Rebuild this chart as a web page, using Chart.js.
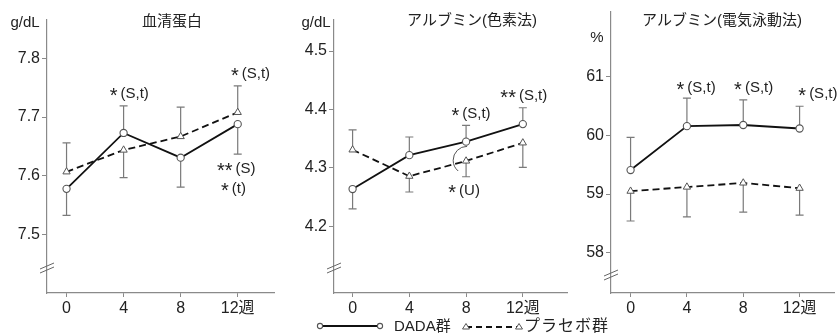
<!DOCTYPE html>
<html>
<head>
<meta charset="utf-8">
<script src="https://cdn.jsdelivr.net/npm/chart.js@4.4.1/dist/chart.umd.min.js"></script>
<style>
  html, body { margin: 0; padding: 0; background: #fff; }
  #wrap { position: relative; width: 840px; height: 333px; overflow: hidden; }
  #wrap canvas { position: absolute; top: 0; }
  .lg { position: absolute; font: 14px 'Liberation Sans', 'Noto Sans CJK JP', sans-serif; color: #222; white-space: nowrap; line-height: 16px; }
</style>
</head>
<body>
<div id="wrap">
  <canvas id="c1" width="280" height="333" style="left:0px"></canvas>
  <canvas id="c2" width="293" height="333" style="left:280px"></canvas>
  <canvas id="c3" width="280" height="333" style="left:560px"></canvas>

  <svg class="lg" style="left:314px;top:319px" width="72" height="14">
    <line x1="6" y1="7" x2="66" y2="7" stroke="#111" stroke-width="1.8"/>
    <circle cx="6" cy="7" r="2.6" fill="#fff" stroke="#555" stroke-width="1.1"/>
    <circle cx="66" cy="7" r="2.6" fill="#fff" stroke="#555" stroke-width="1.1"/>
  </svg>
  <span class="lg" id="lg1" style="left:394px;top:318px;font-size:15px"></span>
  <svg class="lg" style="left:460px;top:319px" width="66" height="14">
    <line x1="6" y1="8" x2="59" y2="8" stroke="#111" stroke-width="1.8" stroke-dasharray="6,4"/>
    <polygon points="6,4.5 9.5,10 2.5,10" fill="#fff" stroke="#555" stroke-width="1"/>
    <polygon points="59,4.5 62.5,10 55.5,10" fill="#fff" stroke="#555" stroke-width="1"/>
  </svg>
  <span class="lg" id="lg2" style="left:524px;top:318px;letter-spacing:1px;font-size:16px"></span>
</div>
<script>
// weeks and labels
const weeks = [0, 4, 8, 12];
const xTickLabels = ['0', '4', '8', '12週'];
const seriesNames = ['DADA群', 'プラセボ群'];

// 血清蛋白 (g/dL)
const proteinDada = [7.578, 7.673, 7.631, 7.688];
const proteinDadaErr = [-0.045, 0.046, -0.050, -0.051];
const proteinPlacebo = [7.607, 7.644, 7.667, 7.708];
const proteinPlaceboErr = [0.049, -0.047, 0.050, 0.045];
const proteinTicks = [7.5, 7.6, 7.7, 7.8];

// アルブミン(色素法) (g/dL)
const dyeDada = [4.264, 4.322, 4.345, 4.375];
const dyeDadaErr = [-0.034, 0.031, 0.028, 0.028];
const dyePlacebo = [4.331, 4.286, 4.312, 4.343];
const dyePlaceboErr = [0.034, -0.027, -0.027, -0.042];
const dyeTicks = [4.2, 4.3, 4.4, 4.5];

// アルブミン(電気泳動法) (%)
const elecDada = [59.41, 60.16, 60.18, 60.12];
const elecDadaErr = [0.56, 0.48, 0.43, 0.38];
const elecPlacebo = [59.05, 59.12, 59.19, 59.10];
const elecPlaceboErr = [-0.51, -0.51, -0.50, -0.46];
const elecTicks = [58, 59, 60, 61];

const FONT = "'Liberation Sans', 'Noto Sans CJK JP', sans-serif";
const TEXT = '#222';
const AXIS = '#8a8a8a';

document.getElementById('lg1').textContent = seriesNames[0];
document.getElementById('lg2').textContent = seriesNames[1];

function toPoints(vals) {
    return weeks.map((w, i) => ({ x: w, y: vals[i] }));
}

// significance note: leading stars drawn as asterisks at mid height
function drawNote(ctx, text, cx, cy) {
    const stars = text.match(/^\*+/)[0].length;
    const rest = text.slice(stars);
    ctx.font = '20px ' + FONT;
    const sw = ctx.measureText('*').width;
    ctx.font = '15px ' + FONT;
    const rw = ctx.measureText(rest).width;
    const gap = 3;
    let x = cx - (sw * stars + gap + rw) / 2;
    const base = cy + 5;
    ctx.textAlign = 'left';
    ctx.textBaseline = 'alphabetic';
    ctx.font = '20px ' + FONT;
    for (let i = 0; i < stars; i++) {
        ctx.fillText('*', x, base + 4);
        x += sw;
    }
    x += gap;
    ctx.font = '15px ' + FONT;
    ctx.fillText(rest, x, base);
}

function makeDecor(p) {
    return {
        id: 'decor',
        beforeDatasetsDraw(chart) {
            const { ctx, scales: { x, y } } = chart;
            ctx.save();
            ctx.strokeStyle = '#7a7a7a';
            ctx.lineWidth = 1.2;
            p.errors.forEach((errs, di) => {
                chart.data.datasets[di].data.forEach((pt, i) => {
                    const px = x.getPixelForValue(pt.x);
                    const y0 = y.getPixelForValue(pt.y);
                    const y1 = y.getPixelForValue(pt.y + errs[i]);
                    ctx.beginPath();
                    ctx.moveTo(px, y0);
                    ctx.lineTo(px, y1);
                    ctx.moveTo(px - 4, y1);
                    ctx.lineTo(px + 4, y1);
                    ctx.stroke();
                });
            });
            ctx.restore();
        },
        afterDraw(chart) {
            const { ctx, chartArea, scales: { x, y } } = chart;
            ctx.save();
            ctx.fillStyle = TEXT;
            ctx.textAlign = 'center';
            ctx.textBaseline = 'middle';
            ctx.font = '15px ' + FONT;
            ctx.fillText(p.title, p.titleX, p.titleY);
            ctx.font = '15px ' + FONT;
            ctx.fillText(p.unit, chartArea.left + p.unitDx, p.unitY);
            p.notes.forEach(n => {
                drawNote(ctx, n.text, x.getPixelForValue(n.x), y.getPixelForValue(n.y));
            });

            // axis break mark
            const bx = chartArea.left, by = chartArea.bottom - p.breakDy;
            ctx.strokeStyle = '#666';
            ctx.lineWidth = 1;
            ctx.beginPath();
            ctx.moveTo(bx - 7, by + 1); ctx.lineTo(bx + 7, by - 5);
            ctx.moveTo(bx - 7, by + 5); ctx.lineTo(bx + 7, by - 1);
            ctx.stroke();

            if (p.bracket) {
                const cx = x.getPixelForValue(p.bracket.x);
                const top = y.getPixelForValue(p.bracket.top);
                const bot = y.getPixelForValue(p.bracket.bottom);
                const r = (bot - top) * 0.7;
                ctx.strokeStyle = '#555';
                ctx.beginPath();
                ctx.arc(cx + 1, top + r, r, -Math.PI / 2, Math.PI * 0.72, true);
                ctx.stroke();
            }
            ctx.restore();
        }
    };
}

function makePanel(canvasId, p) {
    return new Chart(document.getElementById(canvasId), {
        type: 'line',
        data: {
            datasets: [{
                label: seriesNames[0],
                data: toPoints(p.dada),
                borderColor: '#111',
                borderWidth: 1.8,
                pointStyle: 'circle',
                pointRadius: 3.6,
                pointBackgroundColor: '#fff',
                pointBorderColor: '#555',
                pointBorderWidth: 1.1,
                tension: 0,
                clip: false
            }, {
                label: seriesNames[1],
                data: toPoints(p.placebo),
                borderColor: '#111',
                borderWidth: 1.8,
                borderDash: [7, 4],
                pointStyle: 'triangle',
                pointRadius: 4.2,
                pointBackgroundColor: '#fff',
                pointBorderColor: '#555',
                pointBorderWidth: 1,
                tension: 0,
                clip: false
            }]
        },
        options: {
            responsive: false,
            animation: false,
            events: [],
            layout: { padding: { top: p.padTop, right: 0, left: 0, bottom: 0 } },
            plugins: { legend: { display: false }, tooltip: { enabled: false } },
            scales: {
                x: {
                    type: 'linear',
                    min: p.xMin,
                    max: p.xMax,
                    afterBuildTicks: s => { s.ticks = weeks.map(v => ({ value: v })); },
                    afterFit: s => { s.height = 40; },
                    ticks: {
                        color: TEXT,
                        font: { size: 16, family: FONT },
                        padding: 2,
                        maxRotation: 0,
                        callback: v => xTickLabels[weeks.indexOf(v)]
                    },
                    grid: { display: true, drawOnChartArea: false, drawTicks: true, tickLength: 4, color: AXIS },
                    border: { display: true, color: AXIS, width: 1.2 }
                },
                y: {
                    type: 'linear',
                    min: p.yMin,
                    max: p.yMax,
                    afterBuildTicks: s => { s.ticks = p.ticks.map(v => ({ value: v })); },
                    afterFit: s => { s.width = p.axisW; },
                    ticks: {
                        color: TEXT,
                        font: { size: 16, family: FONT },
                        padding: 2,
                        callback: v => p.decimals ? v.toFixed(p.decimals) : String(v)
                    },
                    grid: { display: true, drawOnChartArea: false, drawTicks: true, tickLength: 5, color: AXIS },
                    border: { display: true, color: AXIS, width: 1.2 }
                }
            }
        },
        plugins: [makeDecor(p)]
    });
}

makePanel('c1', {
    dada: proteinDada, placebo: proteinPlacebo,
    errors: [proteinDadaErr, proteinPlaceboErr],
    ticks: proteinTicks, decimals: 1,
    yMin: 7.401, yMax: 7.865, xMin: -1.37, xMax: 14.6,
    axisW: 47, padTop: 20, breakDy: 25,
    title: '血清蛋白', titleX: 172, titleY: 22,
    unit: 'g/dL', unitDx: -22, unitY: 23,
    notes: [
        { text: '*(S,t)', x: 4.4, y: 7.741 },
        { text: '*(S,t)', x: 12.9, y: 7.775 },
        { text: '**(S)', x: 11.9, y: 7.614 },
        { text: '*(t)', x: 11.7, y: 7.580 }
    ]
});

makePanel('c2', {
    dada: dyeDada, placebo: dyePlacebo,
    errors: [dyeDadaErr, dyePlaceboErr],
    ticks: dyeTicks, decimals: 1,
    yMin: 4.0863, yMax: 4.553, xMin: -1.31, xMax: 15.17,
    axisW: 54, padTop: 20, breakDy: 25,
    title: 'アルブミン(色素法)', titleX: 192, titleY: 21,
    unit: 'g/dL', unitDx: -18, unitY: 23,
    notes: [
        { text: '*(S,t)', x: 8.35, y: 4.394 },
        { text: '**(S,t)', x: 12.07, y: 4.425 },
        { text: '*(U)', x: 7.86, y: 4.262 }
    ],
    bracket: { x: 8, top: 4.337, bottom: 4.303 }
});

makePanel('c3', {
    dada: elecDada, placebo: elecPlacebo,
    errors: [elecDadaErr, elecPlaceboErr],
    ticks: elecTicks, decimals: 0,
    yMin: 57.31, yMax: 62.11, xMin: -1.39, xMax: 14.5,
    axisW: 51, padTop: 12, breakDy: 18,
    title: 'アルブミン(電気泳動法)', titleX: 162, titleY: 21,
    unit: '%', unitDx: -14, unitY: 38,
    notes: [
        { text: '*(S,t)', x: 4.65, y: 60.83 },
        { text: '*(S,t)', x: 8.74, y: 60.83 },
        { text: '*(S,t)', x: 13.3, y: 60.73 }
    ]
});
</script>
</body>
</html>
